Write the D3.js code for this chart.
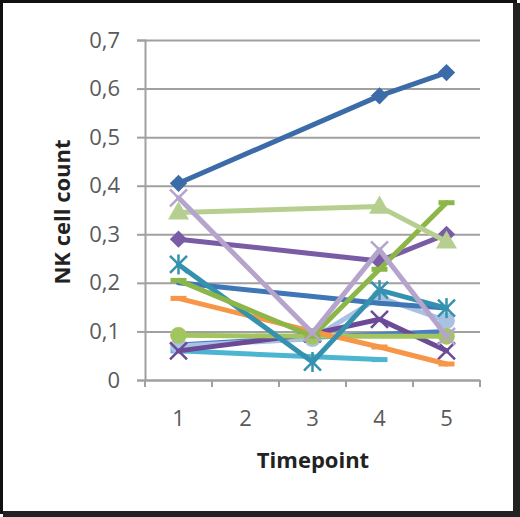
<!DOCTYPE html>
<html><head><meta charset="utf-8">
<script src="https://cdn.jsdelivr.net/npm/d3@7"></script>
<style>
html,body{margin:0;padding:0;background:#fff;}
svg{display:block;}
text{font-family:"Open Sans","DejaVu Sans",sans-serif;}
</style></head>
<body>
<svg id="c" width="520" height="517"></svg>
<script>
const timepoints = ["1","2","3","4","5"];
const yTicks = [0,0.1,0.2,0.3,0.4,0.5,0.6,0.7];
const seriesNames = ["s1","s2","s3","s4","s5","s6","s7","s8","s9","s10","s11","s12","s13"];
const seriesColors = ["#3C6CA8","#B6CF90","#7A5CA6","#B5A5CC","#8DB648","#3592AE","#3E76B6","#F79646","#A2C560","#6C4A98","#4CB6D2","#A9C2E2","#4A7EC0"];
const seriesMarkers = ["diamond","triangle","diamond","x","dash","star","none","dash","circle","x","dash","circle","none"];
const s1 = [0.405,null,null,0.585,0.633];
const s2 = [0.345,null,null,0.357,0.285];
const s3 = [0.290,null,null,0.245,0.300];
const s4 = [0.375,null,0.097,0.268,0.090];
const s5 = [0.205,null,0.090,0.228,0.365];
const s6 = [0.238,null,0.037,0.185,0.148];
const s7 = [0.200,null,null,0.158,0.148];
const s8 = [0.168,null,0.100,0.068,0.033];
const s9 = [0.092,null,0.090,null,0.090];
const s10 = [0.060,null,0.095,0.125,0.060];
const s11 = [0.060,null,null,0.042,null];
const s12 = [0.070,null,0.085,0.170,0.122];
const s13 = [0.072,null,0.088,null,0.100];
const seriesValues = [s1,s2,s3,s4,s5,s6,s7,s8,s9,s10,s11,s12,s13];
// draw order (back to front)
const drawOrder = [12,10,11,9,8,7,6,5,2,4,1,3,0];

const svg = d3.select("#c");
svg.append("rect").attr("x",1.5).attr("y",1.5).attr("width",514).attr("height",511)
  .attr("fill","#fff").attr("stroke","#111").attr("stroke-width",3);
svg.append("rect").attr("x",513).attr("y",3).attr("width",7).attr("height",514).attr("fill","#222");
svg.append("rect").attr("x",3).attr("y",511).attr("width",517).attr("height",6).attr("fill","#222");

const x = d3.scaleBand().domain(timepoints).range([145,480]).paddingInner(0).paddingOuter(0);
const y = d3.scaleLinear().domain([0,0.7]).range([380,40]);
const fmt = d => d===0 ? "0" : d.toFixed(1).replace(".",",");

// gridlines
const gy = svg.append("g").attr("transform","translate(145,0)")
  .call(d3.axisLeft(y).tickValues(yTicks).tickFormat(fmt).tickSize(8).tickPadding(17));
gy.select(".domain").attr("stroke","#A0A0A0").attr("stroke-width",2);
gy.selectAll(".tick line").attr("stroke","#A0A0A0").attr("stroke-width",2);
gy.selectAll(".tick text").attr("fill","#5A5A5A").attr("font-size",22);
gy.selectAll(".tick").append("line").attr("x1",0).attr("x2",335).attr("stroke","#A0A0A0").attr("stroke-width",2);

// x axis
const gx = svg.append("g").attr("transform","translate(0,380)")
  .call(d3.axisBottom(x).tickSize(0).tickPadding(30));
gx.select(".domain").attr("stroke","#A0A0A0").attr("stroke-width",2);
gx.selectAll(".tick text").attr("fill","#5A5A5A").attr("font-size",22);
const bounds = timepoints.map(t=>x(t)).concat([x(timepoints[timepoints.length-1])+x.bandwidth()]);
gx.selectAll(".btick").data(bounds).join("line").attr("class","btick")
  .attr("x1",d=>d).attr("x2",d=>d).attr("y1",0).attr("y2",7)
  .attr("stroke","#A0A0A0").attr("stroke-width",2);

// axis titles
svg.append("text").attr("transform","translate(70,212) rotate(-90)")
  .attr("text-anchor","middle").attr("font-weight","bold").attr("font-size",22).attr("fill","#222")
  .text("NK cell count");
svg.append("text").attr("x",313).attr("y",468)
  .attr("text-anchor","middle").attr("font-weight","bold").attr("font-size",22).attr("fill","#222")
  .text("Timepoint");

const line = d3.line().x(d=>d.x).y(d=>d.y);
const plot = svg.append("g");
drawOrder.forEach(i=>{
  const pts = seriesValues[i].map((v,j)=>({v, x: x(timepoints[j])+x.bandwidth()/2, y: v==null?null:y(v)}))
    .filter(d=>d.v!=null);
  const col = seriesColors[i];
  const g = plot.append("g");
  g.append("path").attr("d",line(pts)).attr("fill","none").attr("stroke",col)
    .attr("stroke-width",5).attr("stroke-linejoin","round").attr("stroke-linecap","round");
  const m = seriesMarkers[i];
  pts.forEach(p=>{
    if(m==="diamond"){
      g.append("path").attr("d",d3.symbol(d3.symbolSquare,150)()).attr("transform",`translate(${p.x},${p.y}) rotate(45)`).attr("fill",col);
    } else if(m==="triangle"){
      g.append("path").attr("d",d3.symbol(d3.symbolTriangle,190)()).attr("transform",`translate(${p.x},${p.y+1})`).attr("fill",col);
    } else if(m==="circle"){
      g.append("path").attr("d",d3.symbol(d3.symbolCircle,220)()).attr("transform",`translate(${p.x},${p.y})`).attr("fill",col);
    } else if(m==="x"){
      g.append("path").attr("d",d3.symbol(d3.symbolX,190)()).attr("transform",`translate(${p.x},${p.y})`).attr("fill","none").attr("stroke",col).attr("stroke-width",2.5);
    } else if(m==="star"){
      g.append("path").attr("d",d3.symbol(d3.symbolX,190)()).attr("transform",`translate(${p.x},${p.y})`).attr("fill","none").attr("stroke",col).attr("stroke-width",2.5);
      g.append("line").attr("x1",p.x).attr("x2",p.x).attr("y1",p.y-10).attr("y2",p.y+10).attr("stroke",col).attr("stroke-width",2.5);
    } else if(m==="dash"){
      g.append("line").attr("x1",p.x-8).attr("x2",p.x+8).attr("y1",p.y).attr("y2",p.y).attr("stroke",col).attr("stroke-width",5);
    }
  });
});
</script>
</body></html>
